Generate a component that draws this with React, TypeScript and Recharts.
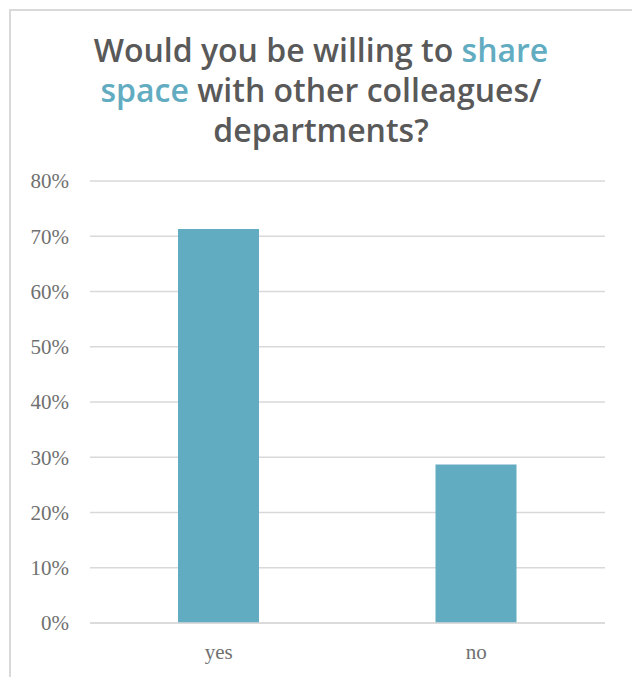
import React from "react";
import { Bar, BarChart, CartesianGrid, XAxis, YAxis } from "recharts";

const answers = ["yes", "no"];
const shares = [71.3, 28.7];
const yTicks = [0, 10, 20, 30, 40, 50, 60, 70, 80];

const data = answers.map((answer, i) => ({ answer, share: shares[i] }));

const BAR = "#62acc1";
const GRID = "#d9d9d9";
const TITLE = "#595959";
const TICK = "#707070";

export default function App() {
  return (
    <div style={{ position: "absolute", left: 0, top: 0, width: 632, height: 677, overflow: "hidden", background: "#fff" }}>
      <div
        style={{
          position: "absolute",
          left: 9,
          top: 9,
          width: 660,
          height: 700,
          border: `2px solid ${GRID}`,
        }}
      />
      <div
        style={{
          position: "absolute",
          left: 0,
          top: 30,
          width: 642,
          textAlign: "center",
          fontFamily: "Open Sans",
          fontWeight: 600,
          fontSize: 32,
          lineHeight: "40px",
          color: TITLE,
        }}
      >
        Would you be willing to <span style={{ color: BAR }}>share</span>
        <br />
        <span style={{ color: BAR }}>space</span> with other colleagues/
        <br />
        departments?
      </div>
      <div style={{ position: "absolute", left: 0, top: 0 }}>
        <BarChart
          width={632}
          height={677}
          data={data}
          margin={{ top: 181, right: 27, bottom: 54 - 30, left: 10 }}
          barSize={81}
        >
          <CartesianGrid vertical={false} stroke={GRID} strokeWidth={1.5} />
          <XAxis
            dataKey="answer"
            height={30}
            axisLine={{ stroke: GRID, strokeWidth: 1.5 }}
            tickLine={false}
            tickMargin={15}
            tick={{ fill: TICK, fontFamily: "Liberation Serif", fontSize: 21 }}
          />
          <YAxis
            width={80}
            domain={[0, 80]}
            ticks={yTicks}
            interval={0}
            axisLine={false}
            tickLine={false}
            tickMargin={15}
            tickFormatter={(v) => `${v}%`}
            tick={{ fill: TICK, fontFamily: "Liberation Serif", fontSize: 21 }}
          />
          <Bar dataKey="share" fill={BAR} isAnimationActive={false} />
        </BarChart>
      </div>
    </div>
  );
}
